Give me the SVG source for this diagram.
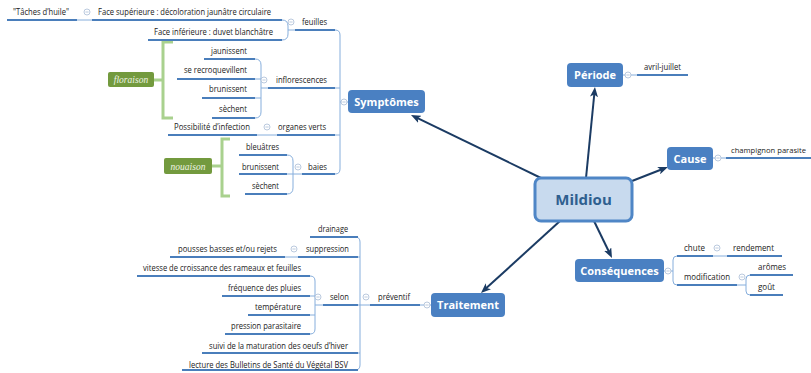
<svg xmlns="http://www.w3.org/2000/svg" xmlns:xlink="http://www.w3.org/1999/xlink" width="811" height="373" viewBox="0 0 811 373">
<style>
.u{stroke:#4A7EBB;stroke-width:2;fill:none}
.c{stroke:#86AEDC;stroke-width:1;fill:none}
.t{font-family:"Open Sans","Liberation Sans",sans-serif;font-size:8.5px;fill:#222}
.box{fill:#4A80C2}
.bt{font-family:"Open Sans","Liberation Sans",sans-serif;font-weight:bold;font-size:11px;fill:#fff;text-anchor:middle}
.arr{stroke:#1B3B63;stroke-width:2;fill:none;marker-end:url(#ah)}
.g{stroke:#A9D18E;stroke-width:3;fill:none}
.gb{fill:#739A3E}
.gt{font-family:"Liberation Serif",serif;font-style:italic;font-size:9.5px;fill:#EEF4E4;text-anchor:middle}
.cl circle{fill:#fff;stroke:#A9BCD6;stroke-width:0.8}
.cl path{stroke:#A9BCD6;stroke-width:0.8}
</style>
<defs>
<marker id="ah" viewBox="0 0 10 8" refX="5" refY="4" markerWidth="10" markerHeight="8" markerUnits="userSpaceOnUse" orient="auto">
<path d="M0,0 L10,4 L0,8 L2.5,4z" fill="#1B3B63"/>
</marker>
<g id="mn" class="cl"><circle r="3"/><path d="M-1.6,0H1.6"/></g>
</defs>
<rect width="811" height="373" fill="#fff"/>

<g id="connectors">
<path class="arr" d="M541,178 L415.5,117.2"/>
<path class="arr" d="M586,178 L594.5,92"/>
<path class="arr" d="M632,181 L663.3,168.8"/>
<path class="arr" d="M594,221 L609.8,253.5"/>
<path class="arr" d="M560,221 L484.7,289.6"/>
<path class="c" d="M335,30 Q340,30 340,35 V169 Q340,174 335,174 M335,88 H340 M335,135 H340 M340,102 H348"/>
<path class="c" d="M282,20 Q288,20 288,26 V34 Q288,40 282,40 M288,30 H295 M77,20 H92"/>
<path class="c" d="M255,59 Q261,59 261,65 V112 Q261,118 255,118 M255,79 H261 M255,98 H261 M261,88 H268"/>
<path class="c" d="M257,135 H277"/>
<path class="c" d="M287,155 Q293,155 293,161 V188 Q293,194 287,194 M287,174 H302"/>
<path class="c" d="M623,75 H637 M713,158 H726"/>
<path class="c" d="M664,271 H673 M677,256 Q673,256 673,260 V281 Q673,285 677,285 M713,256 H727 M737,285 H746 M750,275 Q746,275 746,279 V291 Q746,295 750,295"/>
<path class="c" d="M420,305 H431 M355,237 Q360,237 360,242 V365 Q360,370 355,370 M358,257 H360 M358,305 H370 M358,353 H360 M285,257 H298"/>
<path class="c" d="M310,276 Q315,276 315,281 V329 Q315,334 310,334 M310,296 H315 M310,315 H315 M315,305 H323"/>
<path class="g" d="M173,42 H163 V118 H173 M154,80 H163"/>
<path class="g" d="M230,139 H222 V196 H230 M212,166 H222"/>
</g>

<g id="mildiou">
<rect x="535" y="178" width="97" height="43" rx="6" fill="#C8DAEE" stroke="#4F86C6" stroke-width="3"/>
<text x="583.5" y="205" font-family="'Open Sans','Liberation Sans',sans-serif" font-weight="bold" font-size="15" fill="#2F5F8F" text-anchor="middle">Mildiou</text>
</g>
<g id="symptomes"><rect class="box" x="348" y="90" width="77" height="23" rx="4"/><text class="bt" x="386.5" y="105.5">Symptômes</text></g>
<g id="periode"><rect class="box" x="567" y="63" width="56" height="24" rx="4"/><text class="bt" x="595" y="79">Période</text></g>
<g id="cause"><rect class="box" x="667" y="147" width="46" height="23" rx="4"/><text class="bt" x="690" y="162.5">Cause</text></g>
<g id="consequences"><rect class="box" x="575" y="259" width="89" height="23" rx="4"/><text class="bt" x="619.5" y="274.5">Conséquences</text></g>
<g id="traitement"><rect class="box" x="431" y="293" width="74" height="24" rx="4"/><text class="bt" x="468" y="309">Traitement</text></g>

<g id="taches"><path class="u" d="M7,20H77"/><text class="t" x="13" y="15" textLength="56" lengthAdjust="spacingAndGlyphs">"Tâches d’huile"</text></g>
<g id="face-sup"><path class="u" d="M92,20H282"/><text class="t" x="98" y="15" textLength="173" lengthAdjust="spacingAndGlyphs">Face supérieure : décoloration jaunâtre circulaire</text></g>
<g id="face-inf"><path class="u" d="M148,40H282"/><text class="t" x="154" y="35" textLength="119" lengthAdjust="spacingAndGlyphs">Face inférieure : duvet blanchâtre</text></g>
<g id="feuilles"><path class="u" d="M295,30H335"/><text class="t" x="302" y="25" textLength="25" lengthAdjust="spacingAndGlyphs">feuilles</text></g>
<g id="jaunissent"><path class="u" d="M204,59H255"/><text class="t" x="211" y="54" textLength="36" lengthAdjust="spacingAndGlyphs">jaunissent</text></g>
<g id="recroquevillent"><path class="u" d="M177,79H255"/><text class="t" x="184" y="73" textLength="63" lengthAdjust="spacingAndGlyphs">se recroquevillent</text></g>
<g id="brunissent1"><path class="u" d="M202,98H255"/><text class="t" x="209" y="92" textLength="38" lengthAdjust="spacingAndGlyphs">brunissent</text></g>
<g id="sechent1"><path class="u" d="M212,118H255"/><text class="t" x="219" y="112" textLength="28" lengthAdjust="spacingAndGlyphs">sèchent</text></g>
<g id="inflorescences"><path class="u" d="M268,88H335"/><text class="t" x="276" y="83" textLength="51" lengthAdjust="spacingAndGlyphs">inflorescences</text></g>
<g id="floraison"><rect class="gb" x="108" y="72" width="46" height="15" rx="2"/><text class="gt" x="131" y="83">floraison</text></g>
<g id="possibilite"><path class="u" d="M168,135H257"/><text class="t" x="174" y="130" textLength="76" lengthAdjust="spacingAndGlyphs">Possibilité d’infection</text></g>
<g id="organes"><path class="u" d="M277,135H335"/><text class="t" x="278" y="130" textLength="48" lengthAdjust="spacingAndGlyphs">organes verts</text></g>
<g id="bleuatres"><path class="u" d="M239,155H287"/><text class="t" x="246" y="150" textLength="33" lengthAdjust="spacingAndGlyphs">bleuâtres</text></g>
<g id="brunissent2"><path class="u" d="M239,174H287"/><text class="t" x="242" y="170" textLength="37" lengthAdjust="spacingAndGlyphs">brunissent</text></g>
<g id="sechent2"><path class="u" d="M245,194H287"/><text class="t" x="252" y="189" textLength="27" lengthAdjust="spacingAndGlyphs">sèchent</text></g>
<g id="baies"><path class="u" d="M302,174H335"/><text class="t" x="308" y="170" textLength="19" lengthAdjust="spacingAndGlyphs">baies</text></g>
<g id="nouaison"><rect class="gb" x="164" y="158" width="48" height="16" rx="2"/><text class="gt" x="188" y="169.5">nouaison</text></g>

<g id="avril"><path class="u" d="M637,75H688"/><text class="t" x="644" y="70" textLength="37" lengthAdjust="spacingAndGlyphs">avril-juillet</text></g>
<g id="champignon"><path class="u" d="M726,158H811"/><text class="t" x="731" y="153" style="font-size:7.6px" textLength="75" lengthAdjust="spacingAndGlyphs">champignon parasite</text></g>

<g id="chute"><path class="u" d="M677,256H713"/><text class="t" x="684" y="251" textLength="21" lengthAdjust="spacingAndGlyphs">chute</text></g>
<g id="rendement"><path class="u" d="M727,256H782"/><text class="t" x="733" y="251" textLength="41" lengthAdjust="spacingAndGlyphs">rendement</text></g>
<g id="modification"><path class="u" d="M677,285H737"/><text class="t" x="684" y="280" textLength="46" lengthAdjust="spacingAndGlyphs">modification</text></g>
<g id="aromes"><path class="u" d="M750,275H793"/><text class="t" x="758" y="270" textLength="28" lengthAdjust="spacingAndGlyphs">arômes</text></g>
<g id="gout"><path class="u" d="M750,295H783"/><text class="t" x="758" y="290" textLength="17" lengthAdjust="spacingAndGlyphs">goût</text></g>

<g id="preventif"><path class="u" d="M370,305H420"/><text class="t" x="378" y="300" textLength="32" lengthAdjust="spacingAndGlyphs">préventif</text></g>
<g id="drainage"><path class="u" d="M310,237H358"/><text class="t" x="318" y="232" textLength="30" lengthAdjust="spacingAndGlyphs">drainage</text></g>
<g id="suppression"><path class="u" d="M298,257H358"/><text class="t" x="306" y="252" textLength="43" lengthAdjust="spacingAndGlyphs">suppression</text></g>
<g id="pousses"><path class="u" d="M170,257H285"/><text class="t" x="178" y="252" textLength="99" lengthAdjust="spacingAndGlyphs">pousses basses et/ou rejets</text></g>
<g id="selon"><path class="u" d="M323,305H358"/><text class="t" x="330" y="300" textLength="19" lengthAdjust="spacingAndGlyphs">selon</text></g>
<g id="vitesse"><path class="u" d="M137,276H310"/><text class="t" x="143" y="271" textLength="158" lengthAdjust="spacingAndGlyphs">vitesse de croissance des rameaux et feuilles</text></g>
<g id="frequence"><path class="u" d="M222,296H310"/><text class="t" x="228" y="291" textLength="73" lengthAdjust="spacingAndGlyphs">fréquence des pluies</text></g>
<g id="temperature"><path class="u" d="M248,315H310"/><text class="t" x="255" y="310" textLength="46" lengthAdjust="spacingAndGlyphs">température</text></g>
<g id="pression"><path class="u" d="M225,334H310"/><text class="t" x="231" y="329" textLength="70" lengthAdjust="spacingAndGlyphs">pression parasitaire</text></g>
<g id="suivi"><path class="u" d="M202,353H358"/><text class="t" x="209" y="349" textLength="139" lengthAdjust="spacingAndGlyphs">suivi de la maturation des oeufs d’hiver</text></g>
<g id="lecture"><path class="u" d="M182,370H358"/><text class="t" x="189" y="368" textLength="159" lengthAdjust="spacingAndGlyphs">lecture des Bulletins de Santé du Végétal BSV</text></g>

<g id="collapse-indicators">
<use xlink:href="#mn" x="87" y="12"/>
<use xlink:href="#mn" x="291" y="22"/>
<use xlink:href="#mn" x="264" y="80"/>
<use xlink:href="#mn" x="267" y="127"/>
<use xlink:href="#mn" x="298" y="167"/>
<use xlink:href="#mn" x="344" y="102"/>
<use xlink:href="#mn" x="628" y="75"/>
<use xlink:href="#mn" x="718" y="158"/>
<use xlink:href="#mn" x="668" y="271"/>
<use xlink:href="#mn" x="717" y="248"/>
<use xlink:href="#mn" x="742" y="277"/>
<use xlink:href="#mn" x="427" y="305"/>
<use xlink:href="#mn" x="366" y="297"/>
<use xlink:href="#mn" x="318" y="297"/>
<use xlink:href="#mn" x="294" y="249"/>
</g>
</svg>
